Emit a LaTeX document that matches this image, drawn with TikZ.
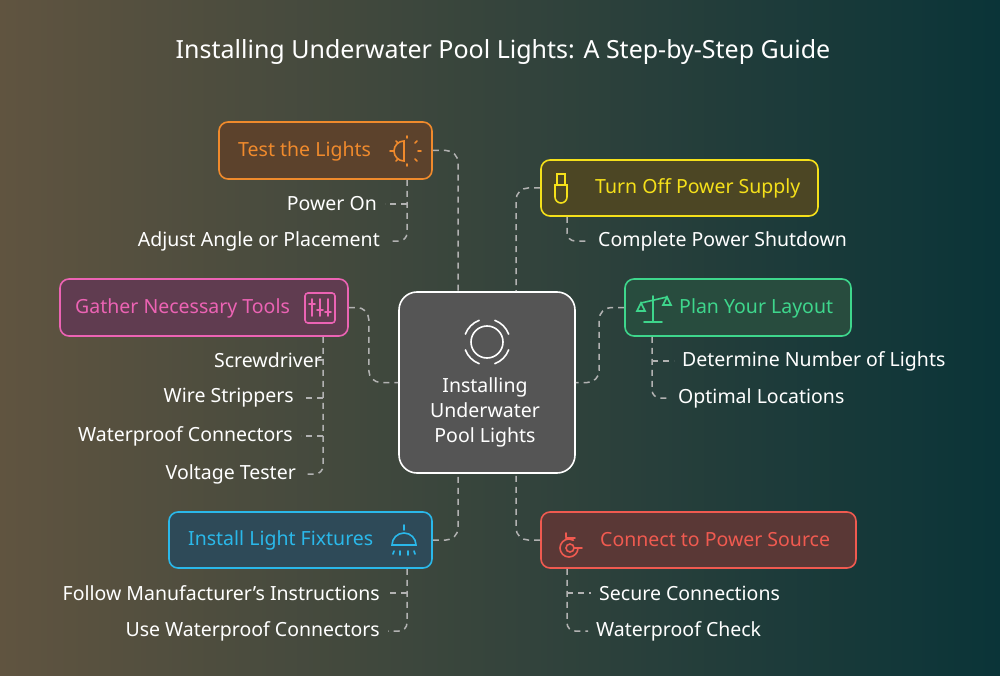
\documentclass[tikz,border=0pt]{standalone}
\usepackage{fontspec}
\setmainfont{Noto Sans}
\begin{document}
\begin{tikzpicture}[x=1pt,y=-1pt,
  box/.style={draw,line width=1.6pt,rounded corners=9pt,inner sep=0pt},
  lbl/.style={font=\fontsize{19.5}{23}\selectfont,inner sep=0pt},
  leaf/.style={font=\fontsize{19.5}{23}\selectfont,text=white,inner sep=0pt},
  con/.style={draw=gray!60,line width=1.5pt,dash pattern=on 6pt off 5pt,rounded corners=12pt},
  ico/.style={line width=1.6pt,line cap=round}]
\definecolor{cO}{HTML}{F08A2C}\definecolor{cY}{HTML}{F5E01A}\definecolor{cP}{HTML}{EC63B4}
\definecolor{cG}{HTML}{3ED68C}\definecolor{cC}{HTML}{2AB8EA}\definecolor{cR}{HTML}{F05A50}
\shade[left color={rgb,255:red,96;green,84;blue,64},right color={rgb,255:red,10;green,52;blue,56}] (0,0) rectangle (1000,676);
\useasboundingbox (0,0) rectangle (1000,676);
\node[text=white,font=\fontsize{25}{30}\selectfont] (title) at (503,52) {Installing Underwater Pool Lights: A Step-by-Step Guide};
% boxes
\node[box,draw=cO,fill={rgb,255:red,92;green,66;blue,44},minimum width=213,minimum height=57] (t) at (325.5,150.5) {};
\node[box,draw=cY,fill={rgb,255:red,76;green,70;blue,36},minimum width=277,minimum height=56] (o) at (679.5,188) {};
\node[box,draw=cP,fill={rgb,255:red,96;green,60;blue,80},minimum width=288,minimum height=57] (g) at (204,307.5) {};
\node[box,draw=cG,fill={rgb,255:red,40;green,76;blue,62},minimum width=226,minimum height=57] (p) at (738,307.5) {};
\node[box,draw=white,fill={rgb,255:red,85;green,85;blue,85},rounded corners=18pt,minimum width=176,minimum height=181] (c) at (487,382.5) {};
\node[box,draw=cC,fill={rgb,255:red,46;green,74;blue,88},minimum width=263,minimum height=56] (i) at (300.5,540) {};
\node[box,draw=cR,fill={rgb,255:red,90;green,56;blue,54},minimum width=315,minimum height=56] (k) at (698.5,540) {};
% labels
\node[lbl,text=cO,anchor=west] (tl) at (238,151) {Test the Lights};
\node[lbl,text=cY,anchor=west] (ol) at (595,188) {Turn Off Power Supply};
\node[lbl,text=cP,anchor=west] (gl) at (75,308) {Gather Necessary Tools};
\node[lbl,text=cG,anchor=west] (pl) at (679,308) {Plan Your Layout};
\node[lbl,text=cC,anchor=west] (il) at (188,540) {Install Light Fixtures};
\node[lbl,text=cR,anchor=west] (kl) at (600,540) {Connect to Power Source};
\node[leaf,align=center,font=\fontsize{19.5}{25}\selectfont] (cl) at (485,412) {Installing\\Underwater\\Pool Lights};
% icons
\draw[ico,white] (487,342) circle (16);
\foreach \a in {20,110,200,290}{\draw[ico,white] (487,342)++(\a:23) arc (\a:\a+50:23);}
\draw[ico,cO] (404,141) arc (-90:-270:10) -- cycle;
\draw[ico,cO] (390,151)--(394,151) (418,151)--(421,151) (407,138)--(407,136) (407,164)--(407,166)
 (396,141)--(398,143) (396,161)--(398,159) (417,141)--(415,143) (417,161)--(415,159);
\draw[ico,cY] (555,185) -- (555,197) arc (180:0:6) -- (567,185) -- cycle (557,185)--(557,174)--(565,174)--(565,185);
\draw[ico,cP,rounded corners=3pt] (305,293) rectangle (335,323);
\draw[ico,cP] (312,299)--(312,316) (320,299)--(320,316) (328,299)--(328,316) (309,304)--(315,304) (325,312)--(331,312) (317,310)--(323,310);
\draw[ico,cG] (653,296)--(653,322) (644,322)--(662,322) (641,303)--(667,297);
\draw[ico,cG] (641,303)--(637,311)--(645,311)--cycle (667,297)--(663,305)--(671,305)--cycle;
\draw[ico,cC] (404,525)--(404,530) (392,545) arc (180:360:12) -- cycle;
\draw[ico,cC] (394,551)--(393,554) (400,551)--(400,555) (408,551)--(408,555) (414,551)--(415,554);
\draw[ico,cR] (578,548) arc (0:300:9) (566,538)--(575,538) (570,548) circle (4) (574,548)--(582,548) (566,533)--(566,537);
% connectors from center
\draw[con] (t.east) -| ([xshift=-29]c.north);
\draw[con] (o.west) -| ([xshift=29]c.north);
\draw[con] (g.east) -- ++(20,0) |- (c.west);
\draw[con] (p.west) -- ++(-25,0) |- (c.east);
\draw[con] (i.east) -| ([xshift=-29]c.south);
\draw[con] (k.west) -| ([xshift=29]c.south);
% leaves
\node[leaf,anchor=east] (t1) at (377,204) {Power On};
\node[leaf,anchor=east] (t2) at (380,241) {Adjust Angle or Placement};
\draw[con,rounded corners=8pt] (t.south -| 407,0) |- ([xshift=8]t2.east);
\draw[con,rounded corners=8pt] (407,204) -- ([xshift=8]t1.east);
\node[leaf,anchor=west] (o1) at (598,241) {Complete Power Shutdown};
\draw[con,rounded corners=8pt] (o.south -| 567,0) |- ([xshift=-8]o1.west);
\node[leaf,anchor=east] (g1) at (322,360) {Screwdriver};
\node[leaf,anchor=east] (g2) at (294,398) {Wire Strippers};
\node[leaf,anchor=east] (g3) at (293,436) {Waterproof Connectors};
\node[leaf,anchor=east] (g4) at (296,474) {Voltage Tester};
\draw[con,rounded corners=8pt] (g.south -| 323,0) |- ([xshift=8]g4.east);
\foreach \n in {g2,g3}{\draw[con] (323,0 |- \n.east) -- ([xshift=8]\n.east);}
\draw[con] (323,360) -- (316,360);
\node[leaf,anchor=west] (p1) at (682,361) {Determine Number of Lights};
\node[leaf,anchor=west] (p2) at (678,398) {Optimal Locations};
\draw[con,rounded corners=8pt] (p.south -| 652,0) |- ([xshift=-8]p2.west);
\draw[con] (652,361) -- ([xshift=-8]p1.west);
\node[leaf,anchor=east] (i1) at (380,593) {Follow Manufacturer\char"0027 s Instructions};
\node[leaf,anchor=east] (i2) at (380,631) {Use Waterproof Connectors};
\draw[con,rounded corners=8pt] (i.south -| 407,0) |- ([xshift=8]i2.east);
\draw[con] (407,593) -- ([xshift=8]i1.east);
\node[leaf,anchor=west] (k1) at (599,593) {Secure Connections};
\node[leaf,anchor=west] (k2) at (596,631) {Waterproof Check};
\draw[con,rounded corners=8pt] (k.south -| 567,0) |- ([xshift=-8]k2.west);
\draw[con] (567,593) -- ([xshift=-8]k1.west);
\end{tikzpicture}
\end{document}
